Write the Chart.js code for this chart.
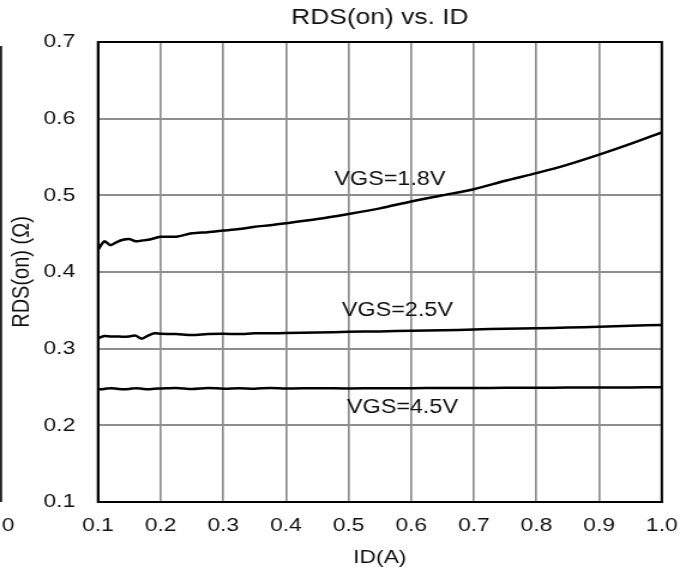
<!DOCTYPE html>
<html>
<head>
<meta charset="utf-8">
<script src="https://cdn.jsdelivr.net/npm/chart.js@4.4.1/dist/chart.umd.min.js"></script>
<style>
  html, body { margin: 0; background: #fff; }
  /* laid out on a narrower canvas, then widened to the page width */
  #rdsChart { display: block; width: 692px !important; height: 572px !important; }
</style>
</head>
<body>
<canvas id="rdsChart" width="577" height="572"></canvas>
<script>
// drain current ID (A)
const idAmps = [0.10, 0.11, 0.12, 0.13, 0.14, 0.15, 0.16, 0.17, 0.18, 0.19, 0.20,
  0.225, 0.25, 0.275, 0.30, 0.325, 0.35, 0.375, 0.40, 0.45, 0.50,
  0.55, 0.60, 0.65, 0.70, 0.75, 0.80, 0.85, 0.90, 0.95, 1.00];

// RDS(on) in ohms for each gate voltage
const rds18 = [0.429, 0.440, 0.435, 0.439, 0.442, 0.443, 0.440, 0.441, 0.442, 0.444, 0.446,
  0.446, 0.4505, 0.452, 0.454, 0.456, 0.459, 0.461, 0.4635, 0.469, 0.4757,
  0.483, 0.492, 0.500, 0.508, 0.519, 0.529, 0.540, 0.553, 0.567, 0.582];
const rds25 = [0.3135, 0.3166, 0.316, 0.316, 0.3155, 0.316, 0.317, 0.313, 0.317, 0.320, 0.3195,
  0.319, 0.3178, 0.319, 0.3195, 0.319, 0.320, 0.320, 0.3205, 0.321, 0.322,
  0.3225, 0.3235, 0.324, 0.325, 0.326, 0.3265, 0.3275, 0.3287, 0.330, 0.331];
const rds45 = [0.247, 0.2475, 0.2485, 0.2478, 0.247, 0.2475, 0.2485, 0.2478, 0.247, 0.2477, 0.248,
  0.2488, 0.2475, 0.2488, 0.2478, 0.2483, 0.2478, 0.2487, 0.248, 0.2485, 0.2482,
  0.2485, 0.2484, 0.2487, 0.2487, 0.2489, 0.249, 0.2492, 0.2494, 0.2495, 0.2497];

const seriesNames = ['VGS=1.8V', 'VGS=2.5V', 'VGS=4.5V'];
const xTickLabels = ['0.1', '0.2', '0.3', '0.4', '0.5', '0.6', '0.7', '0.8', '0.9', '1.0'];
const yTickLabels = ['0.1', '0.2', '0.3', '0.4', '0.5', '0.6', '0.7'];

const FONT = "'Liberation Sans', Arial, sans-serif";
const INK = '#111';

// where each curve name sits, in data units
const curveTags = [
  { text: seriesNames[0], x: 0.566, y: 0.520 },
  { text: seriesNames[1], x: 0.578, y: 0.350 },
  { text: seriesNames[2], x: 0.586, y: 0.223 }
];

const toPoints = ys => idAmps.map((x, i) => ({ x: x, y: ys[i] }));

// black frame round the plot area
const plotFrame = {
  id: 'plotFrame',
  afterDraw(chart) {
    const { ctx, chartArea: a } = chart;
    ctx.save();
    ctx.strokeStyle = '#000';
    ctx.lineWidth = 2;
    ctx.strokeRect(a.left, a.top, a.right - a.left, a.bottom - a.top);
    ctx.restore();
  }
};

// curve names written next to the lines
const curveLabels = {
  id: 'curveLabels',
  afterDatasetsDraw(chart) {
    const { ctx, scales } = chart;
    ctx.save();
    ctx.font = '19.5px ' + FONT;
    ctx.fillStyle = INK;
    ctx.textAlign = 'center';
    ctx.textBaseline = 'middle';
    curveTags.forEach(t => {
      ctx.fillText(t.text, scales.x.getPixelForValue(t.x), scales.y.getPixelForValue(t.y));
    });
    ctx.restore();
  }
};

// cut-off edge of the neighbouring panel on the left
const leftEdge = {
  id: 'leftEdge',
  afterDraw(chart) {
    const { ctx } = chart;
    ctx.save();
    ctx.strokeStyle = '#222';
    ctx.lineWidth = 1.8;
    ctx.beginPath();
    ctx.moveTo(0.9, 46);
    ctx.lineTo(0.9, 502);
    ctx.stroke();
    ctx.font = '19px ' + FONT;
    ctx.fillStyle = INK;
    ctx.textAlign = 'center';
    ctx.textBaseline = 'middle';
    ctx.fillText('0', 6.8, 526);
    ctx.restore();
  }
};

const datasets = [rds18, rds25, rds45].map((ys, i) => ({
  label: seriesNames[i],
  data: toPoints(ys),
  borderColor: '#000',
  borderWidth: 2.5,
  pointRadius: 0,
  tension: 0.25,
  fill: false
}));

new Chart(document.getElementById('rdsChart'), {
  type: 'line',
  data: { datasets },
  plugins: [plotFrame, curveLabels, leftEdge],
  options: {
    responsive: false,
    devicePixelRatio: 1,
    animation: false,
    layout: { padding: { left: 0, right: 22.5, top: 0, bottom: 0 } },
    plugins: {
      legend: { display: false },
      tooltip: { enabled: false },
      title: {
        display: true,
        fullSize: false,
        text: 'RDS(on) vs. ID',
        color: INK,
        font: { family: FONT, size: 22, weight: 'normal' },
        padding: { top: 5, bottom: 10.6 }
      }
    },
    scales: {
      x: {
        type: 'linear',
        min: 0.1,
        max: 1.0,
        afterFit: s => { s.height = 70; },
        ticks: {
          stepSize: 0.1,
          padding: 12,
          color: INK,
          font: { family: FONT, size: 19 },
          maxRotation: 0,
          callback: (v, i) => xTickLabels[i]
        },
        grid: { color: '#8e8e8e', lineWidth: 1.7, drawTicks: false },
        border: { color: '#000', width: 2 },
        title: {
          display: true,
          text: 'ID(A)',
          color: INK,
          font: { family: FONT, size: 19 },
          padding: { top: 0, bottom: 3 }
        }
      },
      y: {
        min: 0.1,
        max: 0.7,
        afterFit: s => { s.width = 81.7; },
        ticks: {
          stepSize: 0.1,
          padding: 19,
          color: INK,
          font: { family: FONT, size: 19 },
          callback: (v, i) => yTickLabels[i]
        },
        grid: { color: '#8e8e8e', lineWidth: 2, drawTicks: false },
        border: { color: '#000', width: 2 },
        title: {
          display: true,
          text: 'RDS(on) (Ω)',
          color: INK,
          font: { family: FONT, size: 20 },
          padding: { top: 6, bottom: 0 }
        }
      }
    }
  }
});
</script>
</body>
</html>
